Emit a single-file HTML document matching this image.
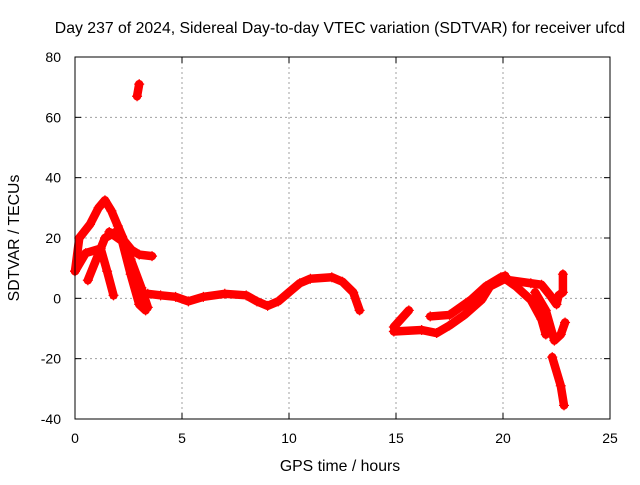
<!DOCTYPE html>
<html><head><meta charset="utf-8"><style>
body{margin:0;background:#fff;font-family:"Liberation Sans",sans-serif;}
svg text{font-family:"Liberation Sans",sans-serif;font-size:14px;fill:#000;}
svg text.big{font-size:15.8px;}
</style></head><body>
<svg id="chart" width="640" height="480" xmlns="http://www.w3.org/2000/svg">
<text class="big" x="340" y="33" text-anchor="middle">Day 237 of 2024, Sidereal Day-to-day VTEC variation (SDTVAR) for receiver ufcd</text>
<text class="big" x="340" y="471" text-anchor="middle">GPS time / hours</text>
<text class="big" transform="translate(19,238) rotate(-90)" text-anchor="middle">SDTVAR / TECUs</text>
<g id="grid"></g><g id="ticks"></g><g id="series"></g>
<rect x="75" y="57" width="535" height="362" fill="none" stroke="#000" stroke-width="1"/>
</svg>
<script>
const xTicks=[0,5,10,15,20,25];
const yTicks=[-40,-20,0,20,40,60,80];
const seriesA=[[0,9],[0.2,20],[0.7,24.5],[1.1,30],[1.4,32.5],[1.7,29],[2,24],[2.3,19],[2.65,16],[3,14.5],[3.6,14]];
const seriesB=[[0,9],[0.5,15],[1.2,16.5],[1.5,9],[1.8,1]];
const seriesC=[[0.6,6],[1.4,20],[1.9,22],[2.2,20.5],[2.6,13],[3.1,3.5],[3.4,-3]];
const seriesD=[[1.6,22],[2.2,19],[2.6,8],[3.0,-2],[3.3,-4]];
const seriesMain=[[3.4,1.5],[4.0,1],[4.7,0.5],[5.3,-1],[6,0.5],[7,1.5],[8,1],[8.5,-1],[9,-2.5],[9.5,-1],[10,2],[10.5,5],[11,6.5],[12,7],[12.5,5.5],[13,2],[13.3,-4]];
const seriesSpike=[[2.9,67],[3.0,71]];
const seriesE=[[14.9,-9.5],[15.6,-4]];
const seriesF=[[14.9,-11],[16.2,-10.5],[16.9,-11.5],[17.5,-9],[18.2,-5.5],[19,-0.5],[19.4,4],[20.1,6.5],[20.6,4],[21.3,-0.5],[21.8,-7],[22,-12]];
const seriesG=[[16.6,-6],[17.5,-5.5],[18.5,-0.5],[19.2,4],[19.9,7],[20.1,7.5]];
const seriesH=[[20.3,6],[21.3,5],[21.8,4.5],[22.2,1],[22.5,-2],[22.6,1],[22.8,2],[22.8,8]];
const seriesI=[[21.5,2],[22,-4],[22.4,-14],[22.7,-12],[22.9,-8]];
const seriesJ=[[22.3,-19.5],[22.7,-29],[22.85,-35.5]];
const allSeries=[seriesA,seriesB,seriesC,seriesD,seriesMain,seriesSpike,seriesE,seriesF,seriesG,seriesH,seriesI,seriesJ];
const NS="http://www.w3.org/2000/svg";
const X0=75,X1=610,Y0=419,Y1=57;
function sx(v){return X0+(v-0)/(25-0)*(X1-X0);}
function sy(v){return Y0-(v+40)/120*(Y0-Y1);}
function mk(t,a,p){const e=document.createElementNS(NS,t);for(const k in a)e.setAttribute(k,a[k]);p.appendChild(e);return e;}
const grid=document.getElementById('grid'),ticks=document.getElementById('ticks'),ser=document.getElementById('series');
xTicks.forEach(t=>{
  const x=sx(t);
  if(t>0&&t<25){const g=mk('line',{x1:x,x2:x,y1:Y1,y2:Y0,stroke:'#a0a0a0','stroke-dasharray':'2,3'},grid);
  
  }
  mk('line',{x1:x,x2:x,y1:Y0,y2:Y0-6,stroke:'#000'},ticks);
  mk('line',{x1:x,x2:x,y1:Y1,y2:Y1+6,stroke:'#000'},ticks);
  const l=mk('text',{x:x,y:Y0+24,'text-anchor':'middle'},ticks);l.textContent=t;
  
  
});
yTicks.forEach(t=>{
  const y=sy(t);
  if(t>-40&&t<80){const g=mk('line',{x1:X0,x2:X1,y1:y,y2:y,stroke:'#a0a0a0','stroke-dasharray':'2,3'},grid);
  
  }
  mk('line',{x1:X0,x2:X0+6,y1:y,y2:y,stroke:'#000'},ticks);
  mk('line',{x1:X1,x2:X1-6,y1:y,y2:y,stroke:'#000'},ticks);
  const l=mk('text',{x:X0-14,y:y+5,'text-anchor':'end'},ticks);l.textContent=t;
  
  
});
allSeries.forEach((s,i)=>{
  const pts=s.map(p=>sx(p[0])+','+sy(p[1])).join(' ');
  const pl=mk('polyline',{points:pts,fill:'none',stroke:'#ff0000','stroke-width':8.5,'stroke-linejoin':'round','stroke-linecap':'round'},ser);
  
  
  s.forEach(p=>{const x=sx(p[0]),y=sy(p[1]);
    mk('path',{d:`M${x-5},${y}h10M${x},${y-5}v10`,stroke:'#ff0000','stroke-width':1.2},ser);});
});
</script>
</body></html>
